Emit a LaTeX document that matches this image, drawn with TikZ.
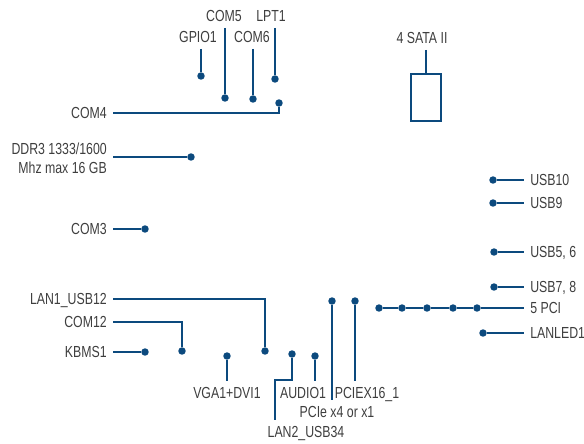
\documentclass[tikz,border=0pt]{standalone}
\usepackage{fontspec}
\setmainfont{Liberation Sans}[FakeStretch=0.77]
\usetikzlibrary{positioning}
\definecolor{wireblue}{HTML}{0C4A7E}
\definecolor{labelgrey}{HTML}{3E3E3E}

\begin{document}
\begin{tikzpicture}[x=0.75pt,y=-0.75pt,
  wire/.style={draw=wireblue, line width=1.1pt},
  pin/.style={circle, fill=wireblue, inner sep=0pt, minimum size=5.6pt},
  lbl/.style={text=labelgrey, inner sep=4.5pt, text depth=0pt, font=\fontsize{12}{14}\selectfont},
  slot/.style={draw=wireblue, line width=1.1pt, minimum width=22.5pt, minimum height=35.5pt, inner sep=0pt}]

\useasboundingbox (0,0) rectangle (584,443);

% top row
\node[lbl] (gpio) at (198,37) {GPIO1};
\node[lbl] (com5) at (224,16) {COM5};
\node[lbl] (com6) at (252,37) {COM6};
\node[lbl] (lpt)  at (271,16) {LPT1};
\node[pin] (gpiop) at (201,76) {};
\node[pin] (com5p) at (225,98) {};
\node[pin] (com6p) at (253,99) {};
\node[pin] (lptp)  at (275,79) {};
\draw[wire] (gpio.south -| gpiop) -- (gpiop);
\draw[wire] (com5.south -| com5p) -- (com5p);
\draw[wire] (com6.south -| com6p) -- (com6p);
\draw[wire] (lpt.south -| lptp) -- (lptp);

\node[lbl] (sata) at (422,38) {4 SATA II};
\node[slot] (satabox) at (426,97.5) {};
\draw[wire] (sata.south -| satabox) -- (satabox.north);

% left side
\node[lbl, anchor=east] (com4) at (113,113) {COM4};
\node[pin] (com4p) at (279,103) {};
\draw[wire] (com4) -| (com4p);

\node[lbl, anchor=east, align=right] (ddr) at (113,158) {DDR3 1333/1600\\Mhz max 16 GB};
\node[pin] (ddrp) at (191,157) {};
\draw[wire] (ddr.east |- ddrp) -- (ddrp);

\node[lbl, anchor=east] (com3) at (113,229) {COM3};
\node[pin] (com3p) at (145,229) {};
\draw[wire] (com3) -- (com3p);

\node[lbl, anchor=east] (lan1) at (113,299) {LAN1\_USB12};
\node[pin] (lan1p) at (265,351) {};
\draw[wire] (lan1) -| (lan1p);

\node[lbl, anchor=east] (com12) at (113,322) {COM12};
\node[pin] (com12p) at (182,351) {};
\draw[wire] (com12) -| (com12p);

\node[lbl, anchor=east] (kbms) at (113,352) {KBMS1};
\node[pin] (kbmsp) at (145,352) {};
\draw[wire] (kbms) -- (kbmsp);

% bottom row
\node[lbl] (vga) at (227,393) {VGA1+DVI1};
\node[pin] (vgap) at (227,356) {};
\draw[wire] (vgap) -- (vga.north -| vgap);

\node[lbl] (lan2) at (306,432) {LAN2\_USB34};
\node[pin] (lan2p) at (292,354) {};
\coordinate (lan2bend) at (275,380);
\draw[wire] (lan2p) |- (lan2bend) -- (lan2bend |- lan2.north);

\node[lbl] (audio) at (303,393) {AUDIO1};
\node[pin] (audiop) at (315,356) {};
\draw[wire] (audiop) -- (audio.north -| audiop);

\node[lbl] (pcie) at (337,412) {PCIe x4 or x1};
\node[pin] (pciep) at (332,301) {};
\draw[wire] (pciep) -- (pcie.north -| pciep);

\node[lbl] (pciex) at (367,393) {PCIEX16\_1};
\node[pin] (pciexp) at (355,301) {};
\draw[wire] (pciexp) -- (pciex.north -| pciexp);

% right side
\node[lbl, anchor=west] (usb10) at (524,180) {USB10};
\node[pin] (usb10p) at (493,180) {};
\draw[wire] (usb10p) -- (usb10);

\node[lbl, anchor=west] (usb9) at (524,203) {USB9};
\node[pin] (usb9p) at (493,203) {};
\draw[wire] (usb9p) -- (usb9);

\node[lbl, anchor=west] (usb56) at (524,252) {USB5, 6};
\node[pin] (usb56p) at (494,252) {};
\draw[wire] (usb56p) -- (usb56);

\node[lbl, anchor=west] (usb78) at (524,287) {USB7, 8};
\node[pin] (usb78p) at (494,287) {};
\draw[wire] (usb78p) -- (usb78);

\node[lbl, anchor=west] (pci) at (524,308) {5 PCI};
\foreach \i/\x in {1/379,2/402,3/427,4/453,5/477}
  \node[pin] (pci\i) at (\x,308) {};
\draw[wire] (pci1) -- (pci2) -- (pci3) -- (pci4) -- (pci5) -- (pci);

\node[lbl, anchor=west] (lanled) at (524,333) {LANLED1};
\node[pin] (lanledp) at (483,333) {};
\draw[wire] (lanledp) -- (lanled);
\end{tikzpicture}
\end{document}
